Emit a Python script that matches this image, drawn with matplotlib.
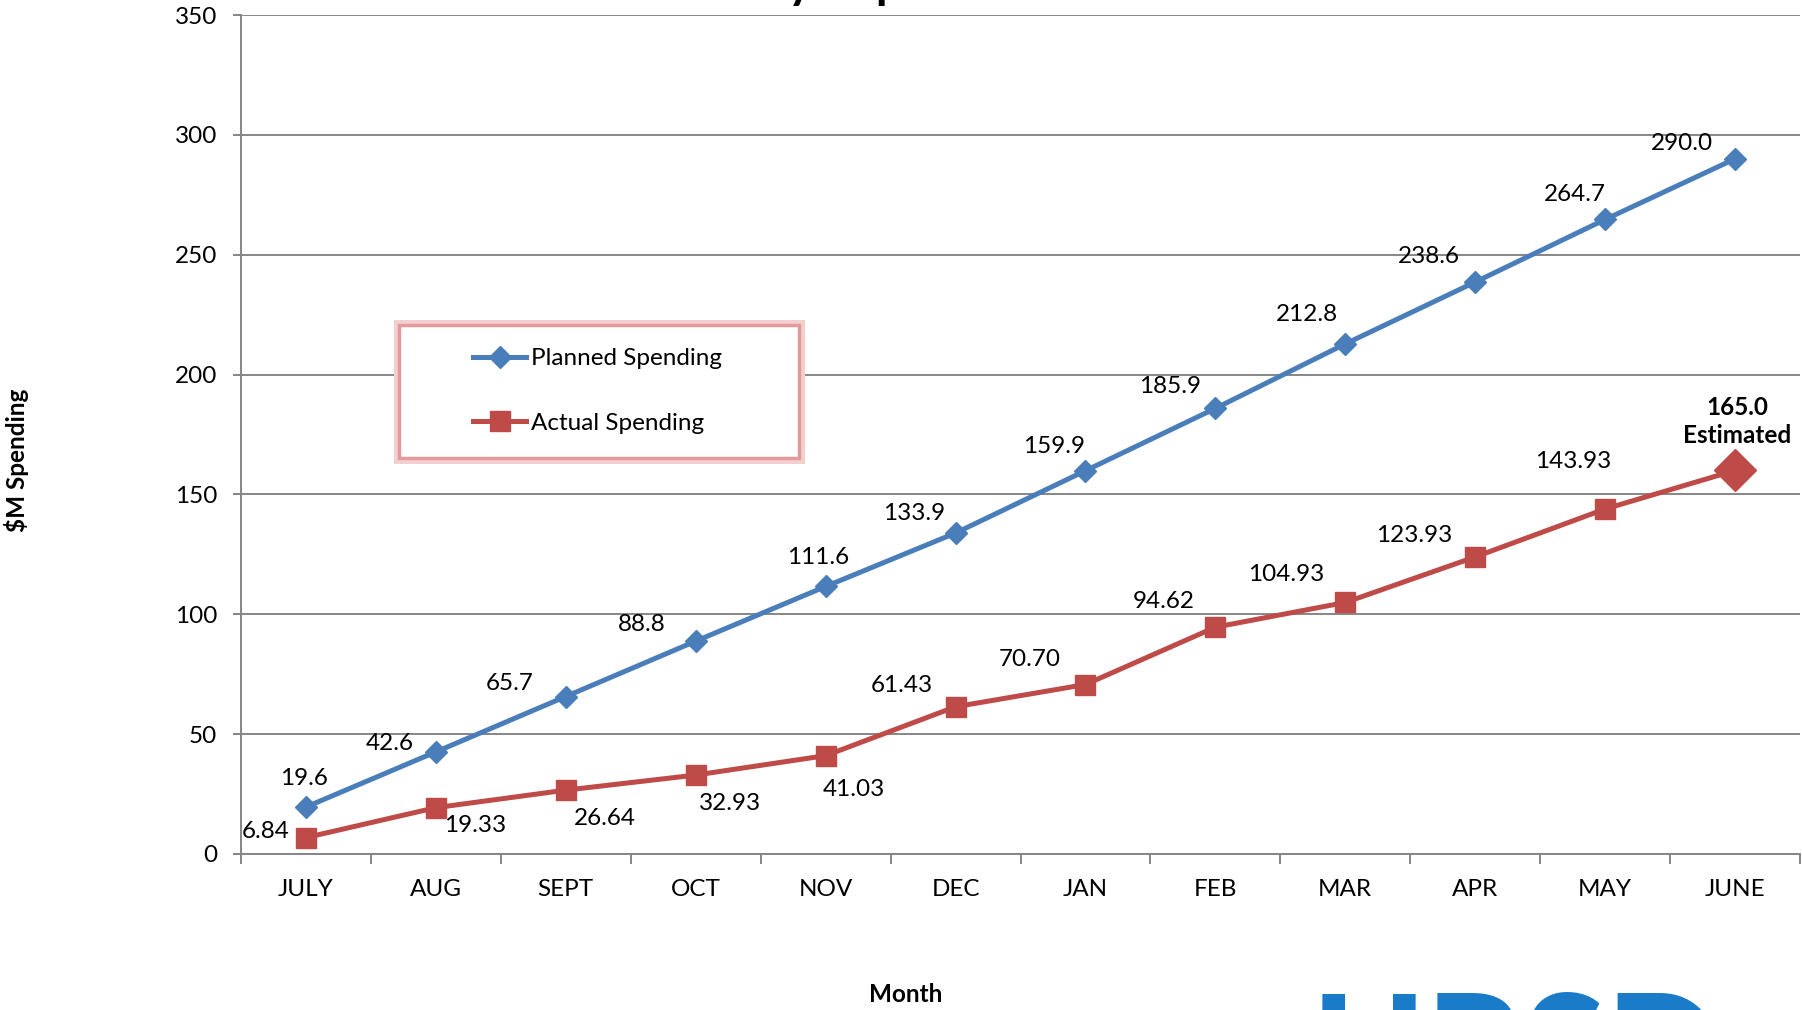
import numpy as np
import matplotlib.pyplot as plt
from matplotlib.lines import Line2D
from matplotlib.patches import Rectangle

plt.rcParams['font.family'] = ['Lato', 'DejaVu Sans']

months = ['JULY', 'AUG', 'SEPT', 'OCT', 'NOV', 'DEC', 'JAN', 'FEB', 'MAR', 'APR', 'MAY', 'JUNE']
planned = [19.6, 42.6, 65.7, 88.8, 111.6, 133.9, 159.9, 185.9, 212.8, 238.6, 264.7, 290.0]
actual = [6.84, 19.33, 26.64, 32.93, 41.03, 61.43, 70.70, 94.62, 104.93, 123.93, 143.93, 160.0]
planned_labels = ['19.6', '42.6', '65.7', '88.8', '111.6', '133.9', '159.9', '185.9',
                  '212.8', '238.6', '264.7', '290.0']
actual_labels = ['6.84', '19.33', '26.64', '32.93', '41.03', '61.43', '70.70', '94.62',
                 '104.93', '123.93', '143.93', '165.0\nEstimated']

blue = '#4a7ebb'
red = '#be4b48'
grey = '#868686'
fs = 17.5

# label offsets in pixels
planned_off = [(-2, 29), (-46, 8), (-56, 13), (-54, 17), (-8, 29), (-41, 20), (-31, 24),
               (-45, 22), (-38, 29), (-46, 26), (-30, 25), (-53, 15)]
actual_off = [(-40, 6), (39, -18), (39, -28), (34, -28), (28, -34), (-54, 21), (-56, 25),
              (-52, 26), (-59, 28), (-61, 21), (-32, 47), (2, 49)]

fig = plt.figure(figsize=(18.02, 10.10), dpi=100)
ax = fig.add_axes([241 / 1802, 1 - 854 / 1010, 1559 / 1802, 839 / 1010])

x = np.arange(len(months))
ax.plot(x, planned, color=blue, lw=3.6, marker='D', ms=11, zorder=3)
ax.plot(x[:-1], actual[:-1], color=red, lw=3.6, marker='s', ms=14, zorder=3)
ax.plot(x[-2:], actual[-2:], color=red, lw=3.6, zorder=3)
ax.plot(x[-1], actual[-1], color=red, marker='D', ms=21, zorder=4)

for i in range(len(months)):
    ax.annotate(planned_labels[i], (x[i], planned[i]), xytext=planned_off[i],
                textcoords='offset pixels', ha='center', va='center', fontsize=fs)
    last = i == len(months) - 1
    ax.annotate(actual_labels[i], (x[i], actual[i]), xytext=actual_off[i],
                textcoords='offset pixels', ha='center', va='center', fontsize=fs,
                fontweight='bold' if last else 'normal', linespacing=1.3)

ax.set_xlim(-0.5, len(months) - 0.5)
ax.set_ylim(0, 350)
ax.set_yticks(np.arange(0, 351, 50))
ax.yaxis.grid(True, color=grey, lw=1.4)
ax.set_axisbelow(True)
ax.set_xticks(np.arange(-0.5, len(months), 1.0))
ax.set_xticklabels([])
ax.set_xticks(x, minor=True)
ax.set_xticklabels(months, minor=True)
ax.tick_params(axis='x', which='major', length=7, color=grey, width=1.4)
ax.tick_params(axis='x', which='minor', length=0, pad=18, labelsize=fs)
ax.tick_params(axis='y', length=6, color=grey, width=1.4, pad=11, labelsize=fs)
for s in ['top', 'right']:
    ax.spines[s].set_visible(False)
for s in ['left', 'bottom']:
    ax.spines[s].set_color(grey)
    ax.spines[s].set_linewidth(1.4)

# legend box with soft red border
box = (399 / 1802, 1 - 458 / 1010)
bw, bh = 400 / 1802, 133 / 1010
ax.add_patch(Rectangle(box, bw, bh, transform=fig.transFigure, fill=False,
                       ec='#f3d0d0', lw=8, zorder=5, clip_on=False))
ax.add_patch(Rectangle(box, bw, bh, transform=fig.transFigure, fc='white',
                       ec='#e39a9a', lw=2.5, zorder=5, clip_on=False))
handles = [Line2D([], [], color=blue, lw=3.6, marker='D', ms=11),
           Line2D([], [], color=red, lw=3.6, marker='s', ms=14)]
leg = ax.legend(handles, ['Planned Spending', 'Actual Spending'], loc='center left',
                bbox_to_anchor=(473 / 1802, 1 - 391 / 1010), bbox_transform=fig.transFigure,
                frameon=False, borderpad=0, borderaxespad=0, handlelength=2.2,
                handletextpad=0.2, labelspacing=1.8, fontsize=fs)
leg.set_zorder(6)

fig.text(905 / 1802, 1 + 1.5 / 1010, 'Cumulative Monthly Expenditures of Investments',
         ha='center', va='baseline', fontsize=34, fontweight='bold')
fig.text(906 / 1802, 1 - 994 / 1010, 'Month', ha='center', va='center',
         fontsize=fs, fontweight='bold')
fig.text(17 / 1802, 1 - 460 / 1010, '$M Spending', ha='center', va='center',
         rotation=90, fontsize=fs, fontweight='bold')
fig.text(1516 / 1802, 1 - 990 / 1010, 'HRSD', ha='center', va='top', color='#1a7cc8',
         fontsize=108, fontweight='black')

fig.savefig('out.png', dpi=100)
